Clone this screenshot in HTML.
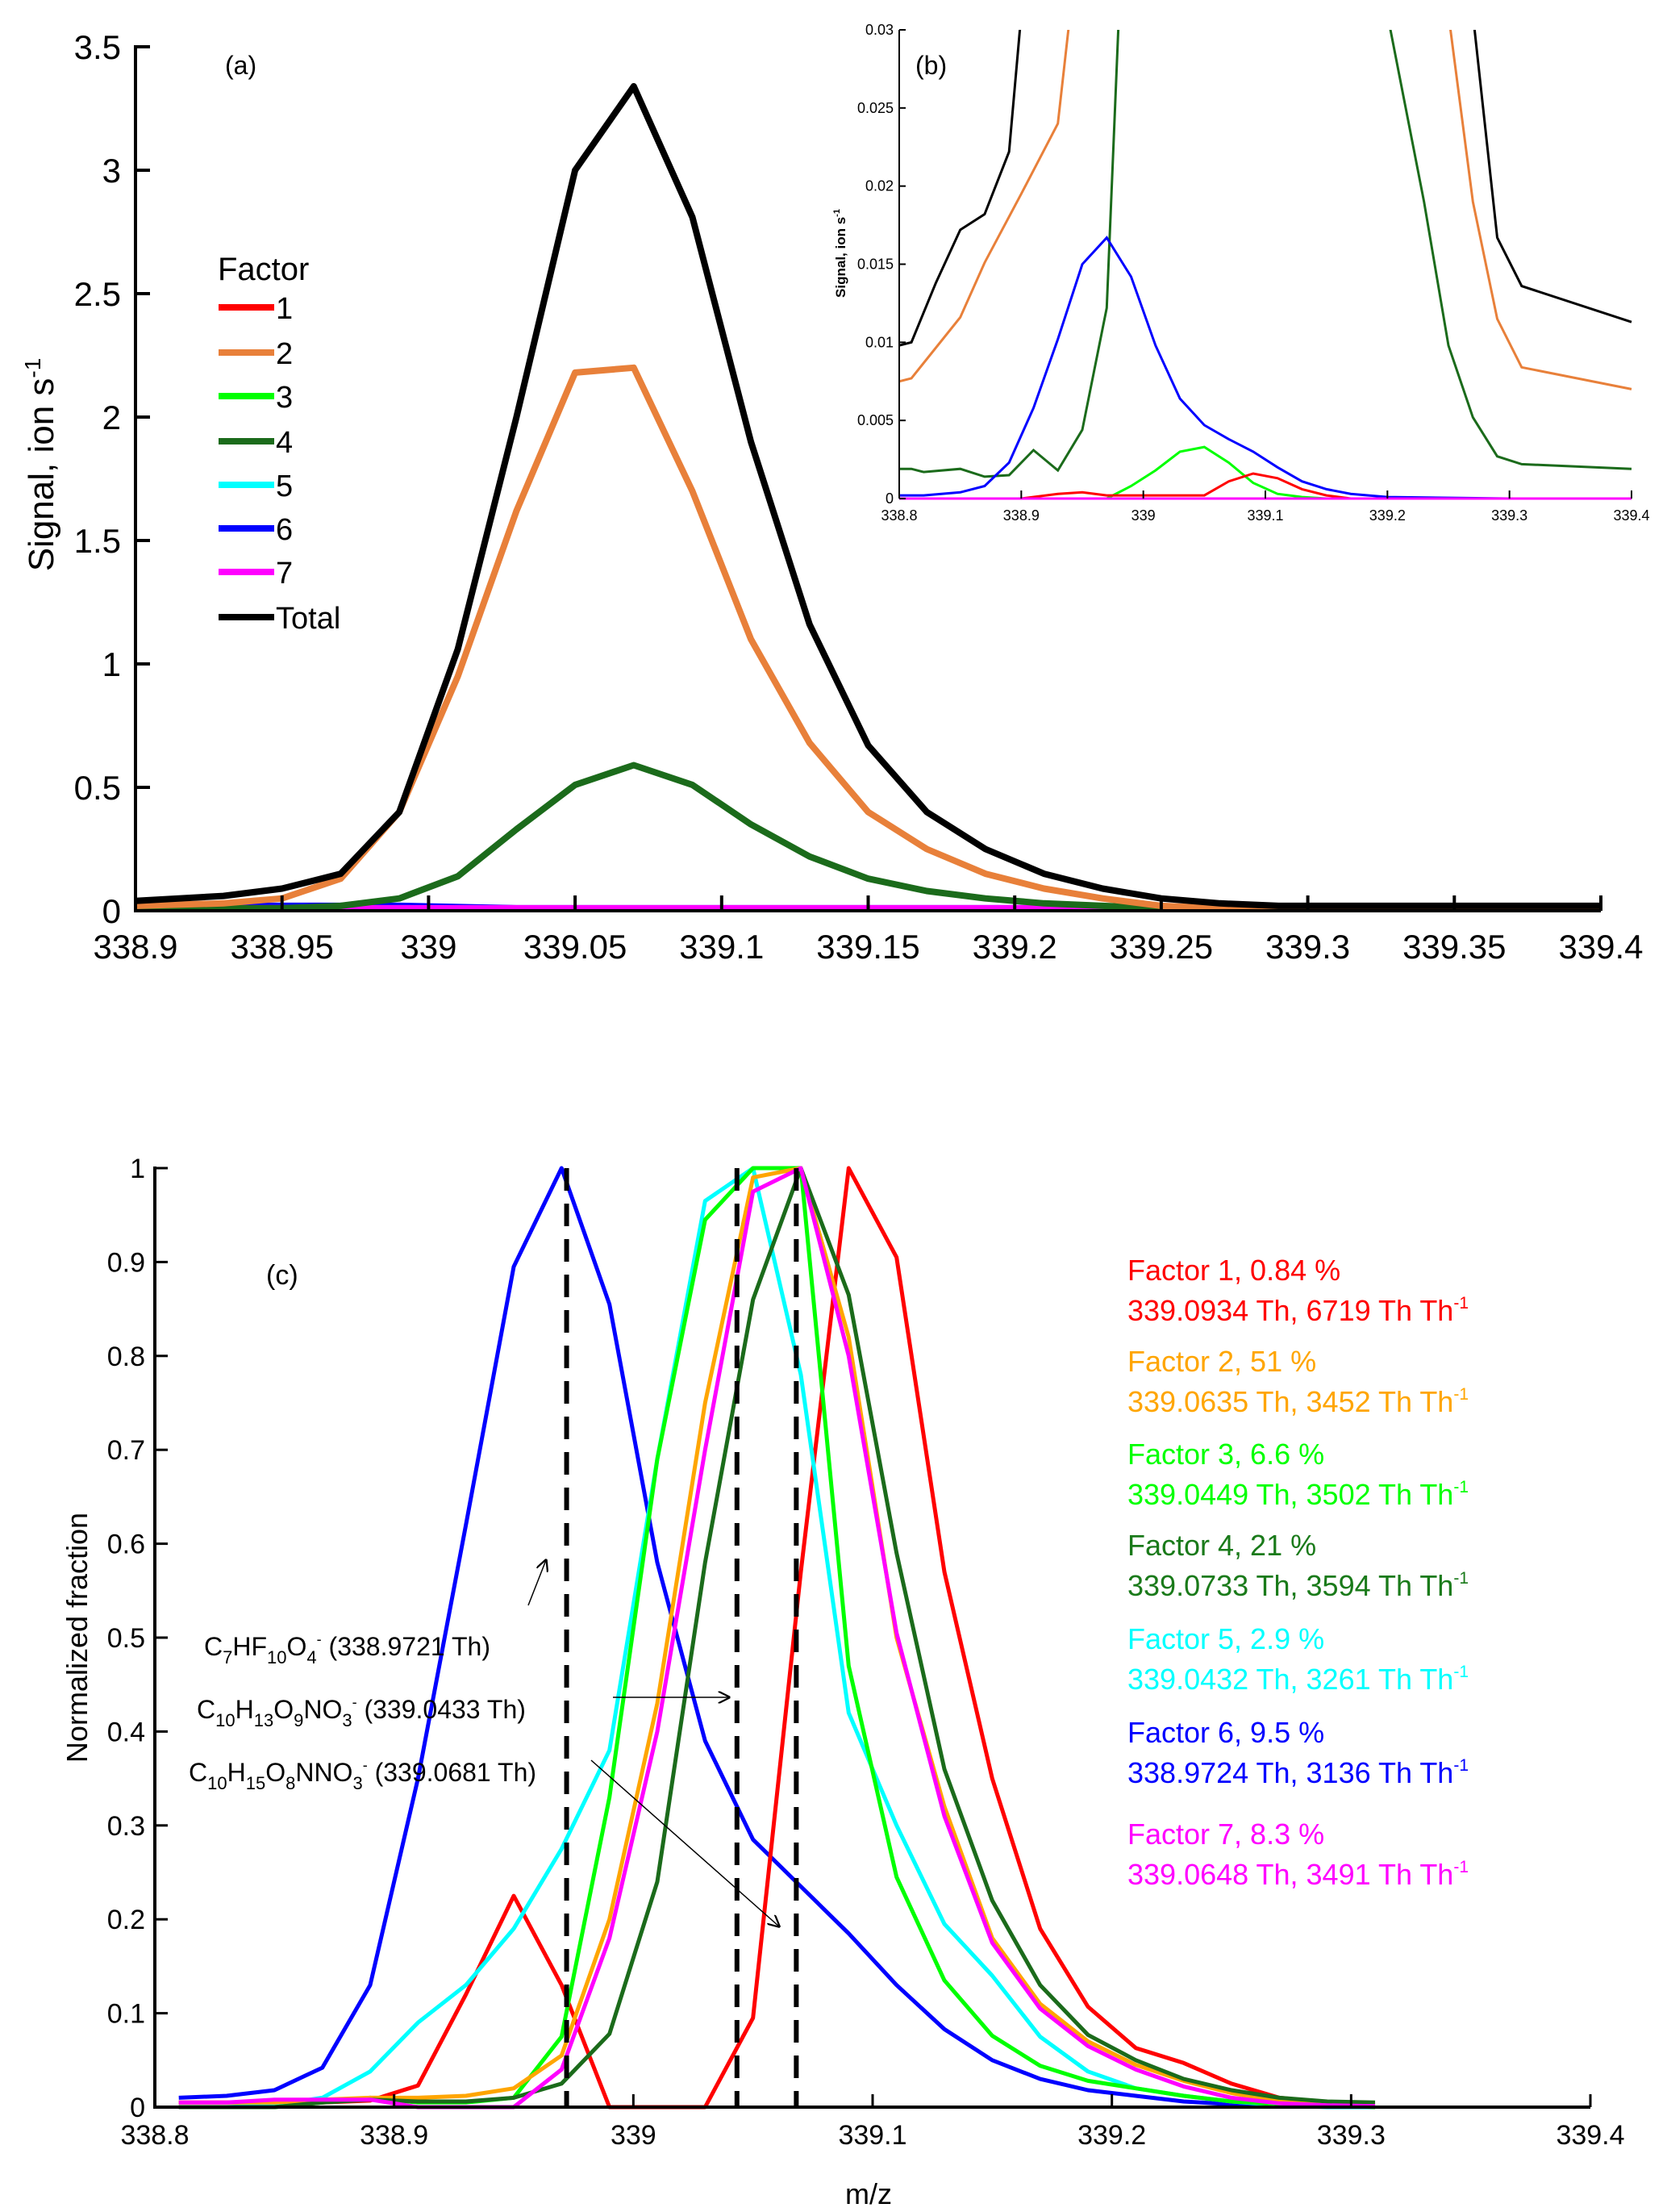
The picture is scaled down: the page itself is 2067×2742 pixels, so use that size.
<!DOCTYPE html>
<html><head><meta charset="utf-8"><style>
html,body{margin:0;padding:0;background:#fff;}
svg{display:block;font-family:"Liberation Sans",Arial,sans-serif;}
</style></head><body>
<svg id="s" width="2067" height="2742" viewBox="0 0 2067 2742" xmlns="http://www.w3.org/2000/svg">
<defs>
<clipPath id="ca"><rect x="168" y="40" width="1820" height="1095"/></clipPath>
<clipPath id="cb"><rect x="1115" y="37" width="910" height="583"/></clipPath>
<clipPath id="cc"><rect x="192" y="1440" width="1780" height="1175"/></clipPath>
<marker id="ah" markerWidth="10" markerHeight="10" refX="9" refY="5" orient="auto"><path d="M0,0 L10,5 L0,10" fill="none" stroke="#000" stroke-width="1.5"/></marker>
</defs>
<g id="ga"></g>
<g id="gb"></g>
<g id="gc"></g>
</svg>
<script>
// ---------- Panel (a) data ----------
const aX = [338.9,338.93,338.95,338.97,338.99,339.01,339.03,339.05,339.07,339.09,339.11,339.13,339.15,339.17,339.19,339.21,339.23,339.25,339.27,339.29,339.31,339.35,339.4];
const aTotal = [0.04,0.06,0.09,0.15,0.4,1.06,2.0,3.0,3.34,2.81,1.9,1.16,0.67,0.4,0.25,0.15,0.09,0.05,0.03,0.02,0.02,0.02,0.02];
const aF2 = [0.02,0.03,0.05,0.13,0.4,0.95,1.62,2.18,2.2,1.7,1.1,0.68,0.4,0.25,0.15,0.09,0.05,0.02,0.01,0.01,0.01,0.01,0.01];
const aF4 = [0.01,0.01,0.01,0.02,0.05,0.14,0.33,0.51,0.59,0.51,0.35,0.22,0.13,0.08,0.05,0.03,0.02,0.01,0.01,0.01,0.01,0.01,0.01];
const aF6 = [0.02,0.02,0.02,0.02,0.02,0.015,0.01,0.01,0.01,0.01,0.01,0.01,0.01,0.01,0.01,0.01,0.01,0.01,0.01,0.01,0.01,0.01,0.01];
const aF7 = [0.01,0.01,0.01,0.01,0.01,0.01,0.01,0.01,0.01,0.01,0.01,0.01,0.01,0.01,0.01,0.01,0.01,0.01,0.01,0.01,0.01,0.01,0.01];
const aXTicks = [338.9,338.95,339,339.05,339.1,339.15,339.2,339.25,339.3,339.35,339.4];
const aYTicks = [0,0.5,1,1.5,2,2.5,3,3.5];
const legendLabels = ["1","2","3","4","5","6","7","Total"];
// ---------- Panel (b) data ----------
const bTotX = [338.8,338.81,338.83,338.85,338.87,338.89,338.9,339.27,339.29,339.31,339.4];
const bTot = [0.0098,0.0100,0.0138,0.0172,0.0182,0.0222,0.031,0.031,0.0167,0.0136,0.0113];
const bF2X = [338.8,338.81,338.85,338.87,338.9,338.93,338.94,339.25,339.27,339.29,339.31,339.4];
const bF2 = [0.0075,0.0077,0.0116,0.0151,0.0195,0.024,0.031,0.031,0.019,0.0115,0.0084,0.007];
const bF4X = [338.8,338.81,338.82,338.85,338.87,338.89,338.91,338.93,338.95,338.97,338.98,339.2,339.23,339.25,339.27,339.29,339.31,339.4];
const bF4 = [0.0019,0.0019,0.0017,0.0019,0.0014,0.0015,0.0031,0.0018,0.0044,0.0122,0.031,0.031,0.019,0.0098,0.0052,0.0027,0.0022,0.0019];
const bF6X = [338.8,338.82,338.85,338.87,338.89,338.91,338.93,338.95,338.97,338.99,339.01,339.03,339.05,339.07,339.09,339.11,339.13,339.15,339.17,339.2,339.3,339.4];
const bF6 = [0.0002,0.0002,0.0004,0.0008,0.0023,0.0058,0.0102,0.015,0.0167,0.0142,0.0098,0.0064,0.0047,0.0038,0.003,0.002,0.0011,0.0006,0.0003,0.0001,0,0];
const bF3X = [338.8,338.97,338.99,339.01,339.03,339.05,339.07,339.09,339.11,339.13,339.15,339.4];
const bF3 = [0,0,0.0008,0.0018,0.003,0.0033,0.0023,0.001,0.0003,0.0001,0,0];
const bF1X = [338.8,338.9,338.93,338.95,338.97,339.05,339.07,339.09,339.11,339.13,339.15,339.17,339.4];
const bF1 = [0,0,0.0003,0.0004,0.0002,0.0002,0.0011,0.0016,0.0013,0.0006,0.0002,0,0];
const bF7X = [338.8,339.4];
const bF7 = [0,0];
const bXTicks = [338.8,338.9,339,339.1,339.2,339.3,339.4];
const bYTicks = [0,0.005,0.01,0.015,0.02,0.025,0.03];
// ---------- Panel (c) data ----------
const cX = [338.81,338.83,338.85,338.87,338.89,338.91,338.93,338.95,338.97,338.99,339.01,339.03,339.05,339.07,339.09,339.11,339.13,339.15,339.17,339.19,339.21,339.23,339.25,339.27,339.29,339.31];
const cF6 = [0.01,0.012,0.018,0.042,0.13,0.35,0.62,0.895,1.0,0.855,0.58,0.39,0.285,0.235,0.185,0.13,0.083,0.05,0.03,0.018,0.012,0.006,0.003,0.002,0.001,0];
const cF1 = [0.005,0.005,0.005,0.005,0.007,0.023,0.12,0.225,0.13,0,0,0,0.095,0.57,1.0,0.905,0.57,0.35,0.19,0.107,0.063,0.047,0.025,0.01,0.005,0.003];
const cF5 = [0,0,0.002,0.01,0.038,0.09,0.13,0.19,0.275,0.38,0.69,0.965,1.0,0.78,0.42,0.3,0.195,0.14,0.075,0.038,0.02,0.012,0.006,0.002,0,0];
const cF3 = [0,0,0,0.005,0.01,0.005,0.005,0.01,0.075,0.33,0.69,0.945,1.0,1.0,0.47,0.245,0.135,0.076,0.044,0.028,0.02,0.012,0.006,0.003,0.002,0];
const cF2 = [0.005,0.005,0.005,0.008,0.01,0.01,0.012,0.02,0.055,0.2,0.43,0.75,0.99,1.0,0.82,0.5,0.32,0.18,0.11,0.07,0.045,0.028,0.015,0.006,0.003,0.002];
const cF7 = [0.005,0.005,0.008,0.008,0.008,0,0,0,0.04,0.18,0.4,0.7,0.975,1.0,0.8,0.505,0.31,0.175,0.105,0.065,0.04,0.022,0.01,0.004,0.002,0.001];
const cF4 = [0,0,0,0.005,0.008,0.006,0.006,0.01,0.025,0.078,0.24,0.58,0.86,1.0,0.865,0.59,0.36,0.22,0.13,0.077,0.05,0.03,0.018,0.01,0.006,0.005];
const cDashed = [338.9721,339.0433,339.0681];
const cXTicks = [338.8,338.9,339,339.1,339.2,339.3,339.4];
const cYTicks = [0,0.1,0.2,0.3,0.4,0.5,0.6,0.7,0.8,0.9,1];
const factorTitles = ["Factor 1, 0.84 %","Factor 2, 51 %","Factor 3, 6.6 %","Factor 4, 21 %","Factor 5, 2.9 %","Factor 6, 9.5 %","Factor 7, 8.3 %"];
const factorDetails = ["339.0934 Th, 6719 Th Th","339.0635 Th, 3452 Th Th","339.0449 Th, 3502 Th Th","339.0733 Th, 3594 Th Th","339.0432 Th, 3261 Th Th","338.9724 Th, 3136 Th Th","339.0648 Th, 3491 Th Th"];

const NS="http://www.w3.org/2000/svg";
function mk(tag, parent, attrs){const e=document.createElementNS(NS,tag);for(const k in attrs)e.setAttribute(k,attrs[k]);parent.appendChild(e);return e;}
function lin(d0,d1,r0,r1){return v=>r0+(v-d0)/(d1-d0)*(r1-r0);}
function fmt(v){return String(+v.toFixed(4));}
function path(xs,ys,sx,sy){return xs.map((x,i)=>(i?'L':'M')+sx(x).toFixed(1)+','+sy(ys[i]).toFixed(1)).join(' ');}

// ===== Panel A =====
const ga=document.getElementById('ga');
const ax=lin(338.9,339.4,168,1985), ay=lin(0,3.5,1129,58);
const colors={f1:'#ff0000',f2:'#e8803a',f3:'#00ff00',f4:'#1b6b1b',f5:'#00ffff',f6:'#0000ff',f7:'#ff00ff',tot:'#000'};
const aLines=[[aF6,colors.f6,'line-factor-6'],[aF7,colors.f7,'line-factor-7'],[aF4,colors.f4,'line-factor-4'],[aF2,colors.f2,'line-factor-2'],[aTotal,colors.tot,'line-total']];
const gaL=mk('g',ga,{'clip-path':'url(#ca)'});
aLines.forEach(([ys,c,n])=>{
 const p=mk('path',gaL,{d:path(aX,ys,ax,ay),fill:'none',stroke:c,'stroke-width':8,'stroke-linejoin':'round'});
 
 
});
let e;
e=mk('line',ga,{x1:168,y1:1129,x2:1985,y2:1129,stroke:'#000','stroke-width':4});

e=mk('line',ga,{x1:168,y1:1131,x2:168,y2:56,stroke:'#000','stroke-width':4});

aXTicks.forEach(t=>{
 mk('line',ga,{x1:ax(t),y1:1129,x2:ax(t),y2:1110,stroke:'#000','stroke-width':4});
 const tx=mk('text',ga,{x:ax(t),y:1188,'font-size':42,'text-anchor':'middle'});tx.textContent=fmt(t);
 
});
aYTicks.forEach(t=>{
 mk('line',ga,{x1:168,y1:ay(t),x2:186,y2:ay(t),stroke:'#000','stroke-width':4});
 const tx=mk('text',ga,{x:150,y:ay(t)+15,'font-size':42,'text-anchor':'end'});tx.textContent=fmt(t);
 
});
e=mk('text',ga,{x:0,y:0,'font-size':44,'text-anchor':'middle',transform:'translate(66,576) rotate(-90)'});
e.innerHTML='Signal, ion s<tspan dy="-16" font-size="28">-1</tspan>';

e=mk('text',ga,{x:279,y:92,'font-size':32});e.textContent='(a)';

e=mk('text',ga,{x:270,y:347,'font-size':40});e.textContent='Factor';

const legCols=[colors.f1,colors.f2,colors.f3,colors.f4,colors.f5,colors.f6,colors.f7,colors.tot];
const legY=[381,437,491,547,601,655,709,765];
legendLabels.forEach((l,i)=>{
 const g=mk('g',ga,{});
 
 
 mk('line',g,{x1:271,y1:legY[i],x2:340,y2:legY[i],stroke:legCols[i],'stroke-width':8});
 const t=mk('text',g,{x:342,y:legY[i]+14,'font-size':38});t.textContent=l;
});

// ===== Panel B =====
const gb=document.getElementById('gb');
const bx=lin(338.8,339.4,1115,2023), by=lin(0,0.03,618,37);
const gbL=mk('g',gb,{'clip-path':'url(#cb)'});
[[bF4X,bF4,colors.f4,'inset-line-factor-4'],[bF2X,bF2,colors.f2,'inset-line-factor-2'],[bTotX,bTot,colors.tot,'inset-line-total'],[bF6X,bF6,colors.f6,'inset-line-factor-6'],[bF3X,bF3,colors.f3,'inset-line-factor-3'],[bF1X,bF1,colors.f1,'inset-line-factor-1'],[bF7X,bF7,colors.f7,'inset-line-factor-7']].forEach(([xs,ys,c,n])=>{
 const p=mk('path',gbL,{d:path(xs,ys,bx,by),fill:'none',stroke:c,'stroke-width':3});
 
 
});
e=mk('line',gb,{x1:1115,y1:37,x2:1115,y2:618,stroke:'#000','stroke-width':2});

bXTicks.forEach(t=>{
 mk('line',gb,{x1:bx(t),y1:618,x2:bx(t),y2:608,stroke:'#000','stroke-width':2});
 const tx=mk('text',gb,{x:bx(t),y:645,'font-size':18,'text-anchor':'middle'});tx.textContent=fmt(t);
 
});
bYTicks.forEach(t=>{
 mk('line',gb,{x1:1115,y1:by(t),x2:1123,y2:by(t),stroke:'#000','stroke-width':2});
 const tx=mk('text',gb,{x:1108,y:by(t)+6,'font-size':18,'text-anchor':'end'});tx.textContent=fmt(t);
 
});
e=mk('text',gb,{x:0,y:0,'font-size':17,'text-anchor':'middle','font-weight':'bold',transform:'translate(1048,314) rotate(-90)'});
e.innerHTML='Signal, ion s<tspan dy="-7" font-size="11">-1</tspan>';

e=mk('text',gb,{x:1135,y:92,'font-size':32});e.textContent='(b)';


// ===== Panel C =====
const gc=document.getElementById('gc');
const cx=lin(338.8,339.4,192,1972), cy=lin(0,1,2612,1448);
const gcL=mk('g',gc,{'clip-path':'url(#cc)'});
[[cF6,colors.f6,'c-line-factor-6'],[cF1,colors.f1,'c-line-factor-1'],[cF5,colors.f5,'c-line-factor-5'],[cF3,colors.f3,'c-line-factor-3'],[cF2,'#ffa500','c-line-factor-2'],[cF4,colors.f4,'c-line-factor-4'],[cF7,colors.f7,'c-line-factor-7']].forEach(([ys,c,n])=>{
 const p=mk('path',gcL,{d:path(cX,ys,cx,cy),fill:'none',stroke:c,'stroke-width':5,'stroke-linejoin':'round'});
 
 
});
cDashed.forEach(v=>{
 const l=mk('line',gc,{x1:cx(v),y1:cy(1),x2:cx(v),y2:cy(0),stroke:'#000','stroke-width':6,'stroke-dasharray':'28,16'});
 
 
});
e=mk('line',gc,{x1:192,y1:2612,x2:1972,y2:2612,stroke:'#000','stroke-width':4});

e=mk('line',gc,{x1:192,y1:2614,x2:192,y2:1446,stroke:'#000','stroke-width':4});

cXTicks.forEach(t=>{
 mk('line',gc,{x1:cx(t),y1:2612,x2:cx(t),y2:2596,stroke:'#000','stroke-width':3});
 const tx=mk('text',gc,{x:cx(t),y:2658,'font-size':34,'text-anchor':'middle'});tx.textContent=fmt(t);
 
});
cYTicks.forEach(t=>{
 mk('line',gc,{x1:192,y1:cy(t),x2:208,y2:cy(t),stroke:'#000','stroke-width':3});
 const tx=mk('text',gc,{x:180,y:cy(t)+12,'font-size':34,'text-anchor':'end'});tx.textContent=fmt(t);
 
});
e=mk('text',gc,{x:0,y:0,'font-size':36,'text-anchor':'middle',transform:'translate(108,2030) rotate(-90)'});e.textContent='Normalized fraction';

e=mk('text',gc,{x:1077,y:2732,'font-size':36,'text-anchor':'middle'});e.textContent='m/z';

e=mk('text',gc,{x:330,y:1592,'font-size':34});e.textContent='(c)';

const facCols=[colors.f1,'#ffa500',colors.f3,'#1a7a1a',colors.f5,colors.f6,colors.f7];
const facY=[1587,1700,1815,1928,2044,2160,2286];
factorTitles.forEach((t,i)=>{
 const g=mk('g',gc,{});
 
 
 const a=mk('text',g,{x:1398,y:facY[i],'font-size':36,fill:facCols[i]});a.textContent=t;
 const b=mk('text',g,{x:1398,y:facY[i]+50,'font-size':36,fill:facCols[i]});
 b.innerHTML=factorDetails[i]+'<tspan dy="-15" font-size="21">-1</tspan>';
});
const f1=mk('text',gc,{x:253,y:2052,'font-size':32});
f1.innerHTML='C<tspan dy="10" font-size="22">7</tspan><tspan dy="-10">HF</tspan><tspan dy="10" font-size="22">10</tspan><tspan dy="-10">O</tspan><tspan dy="10" font-size="22">4</tspan><tspan dy="-24" font-size="18">-</tspan><tspan dy="14"> (338.9721 Th)</tspan>';

const f2=mk('text',gc,{x:244,y:2130,'font-size':32});
f2.innerHTML='C<tspan dy="10" font-size="22">10</tspan><tspan dy="-10">H</tspan><tspan dy="10" font-size="22">13</tspan><tspan dy="-10">O</tspan><tspan dy="10" font-size="22">9</tspan><tspan dy="-10">NO</tspan><tspan dy="10" font-size="22">3</tspan><tspan dy="-24" font-size="18">-</tspan><tspan dy="14"> (339.0433 Th)</tspan>';

const f3=mk('text',gc,{x:234,y:2208,'font-size':32});
f3.innerHTML='C<tspan dy="10" font-size="22">10</tspan><tspan dy="-10">H</tspan><tspan dy="10" font-size="22">15</tspan><tspan dy="-10">O</tspan><tspan dy="10" font-size="22">8</tspan><tspan dy="-10">NNO</tspan><tspan dy="10" font-size="22">3</tspan><tspan dy="-24" font-size="18">-</tspan><tspan dy="14"> (339.0681 Th)</tspan>';

[[655,1990,677,1934],[760,2104,904,2104],[733,2182,966,2388]].forEach((a,i)=>{
 const l=mk('line',gc,{x1:a[0],y1:a[1],x2:a[2],y2:a[3],stroke:'#000','stroke-width':1.5,'marker-end':'url(#ah)'});
 
 
});
</script>
</body></html>
